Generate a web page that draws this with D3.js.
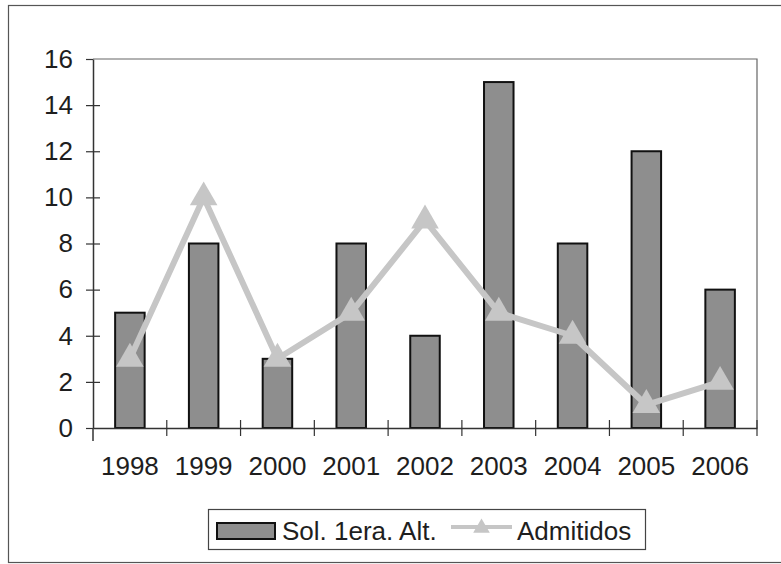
<!DOCTYPE html>
<html>
<head>
<meta charset="utf-8">
<script src="https://cdn.jsdelivr.net/npm/d3@7"></script>
<style>
  body { margin: 0; background: #fff; }
  svg text { font-family: "Liberation Sans", Arial, sans-serif; fill: #1e1e1e; }
</style>
</head>
<body>
<div id="chart"></div>
<script>
// Data
const years = ["1998", "1999", "2000", "2001", "2002", "2003", "2004", "2005", "2006"];
const solicitudes = [5, 8, 3, 8, 4, 15, 8, 12, 6];
const admitidos = [3, 10, 3, 5, 9, 5, 4, 1, 2];
const yTicks = [0, 2, 4, 6, 8, 10, 12, 14, 16];
const seriesNames = ["Sol. 1era. Alt.", "Admitidos"];

const W = 781, H = 564;
const plot = { left: 93, right: 757, top: 59, bottom: 428 };

const svg = d3.select("#chart")
  .append("svg")
    .attr("width", W)
    .attr("height", H);

// outer chart border
svg.append("rect")
  .attr("x", 8.5).attr("y", 5.5)
  .attr("width", W + 10).attr("height", 557)
  .attr("fill", "none")
  .attr("stroke", "#555")
  .attr("stroke-width", 1.2);

const x = d3.scaleBand()
  .domain(years)
  .range([plot.left, plot.right])
  .paddingInner(0)
  .paddingOuter(0);

const y = d3.scaleLinear()
  .domain([0, 16])
  .range([plot.bottom, plot.top]);

// plot area border (top + right)
svg.append("path")
  .attr("d", `M${plot.left},${plot.top}H${plot.right}V${plot.bottom}`)
  .attr("fill", "none")
  .attr("stroke", "#666")
  .attr("stroke-width", 1.2);

// bars
const barW = x.bandwidth() / 2.5;
svg.append("g")
  .selectAll("rect")
  .data(years.map((d, i) => ({ year: d, value: solicitudes[i] })))
  .enter().append("rect")
    .attr("x", d => x(d.year) + (x.bandwidth() - barW) / 2)
    .attr("y", d => y(d.value))
    .attr("width", barW)
    .attr("height", d => y(0) - y(d.value))
    .attr("fill", "#8e8e8e")
    .attr("stroke", "#111")
    .attr("stroke-width", 2);

// Y axis
const yAxis = svg.append("g")
  .attr("transform", `translate(${plot.left},0)`)
  .call(d3.axisLeft(y).tickValues(yTicks).tickSize(7).tickPadding(13).tickSizeOuter(0));
yAxis.selectAll(".tick line").attr("x2", -7).attr("x1", d => d === 16 || d === 0 ? 0 : 7);
yAxis.select(".domain").attr("stroke", "#333").attr("stroke-width", 1.5);
yAxis.selectAll(".tick line").attr("stroke", "#333").attr("stroke-width", 1.2);
yAxis.selectAll(".tick text").style("font-size", "26px").attr("fill", "#1e1e1e");

// X axis
const xAxis = svg.append("g")
  .attr("transform", `translate(0,${plot.bottom})`)
  .call(d3.axisBottom(x).tickSize(0).tickPadding(29).tickSizeOuter(0));
xAxis.select(".domain").attr("stroke", "#333").attr("stroke-width", 1.5);
xAxis.selectAll(".tick text").style("font-size", "26px").attr("fill", "#1e1e1e");
// category separators, Excel style
xAxis.append("g")
  .selectAll("line")
  .data(years.slice(1).concat(["end"]))
  .enter().append("line")
    .attr("x1", (d, i) => i < years.length - 1 ? x(d) : plot.right)
    .attr("x2", (d, i) => i < years.length - 1 ? x(d) : plot.right)
    .attr("y1", -8).attr("y2", 8)
    .attr("stroke", "#333").attr("stroke-width", 1.2);
xAxis.append("line")
  .attr("x1", plot.left).attr("x2", plot.left)
  .attr("y1", 0).attr("y2", 13)
  .attr("stroke", "#333").attr("stroke-width", 1.5);

// line series
const pts = years.map((d, i) => ({ year: d, value: admitidos[i] }));
const lineColor = "#c6c6c6";
svg.append("path")
  .datum(pts)
  .attr("fill", "none")
  .attr("stroke", lineColor)
  .attr("stroke-width", 6)
  .attr("stroke-linejoin", "round")
  .attr("d", d3.line()
    .x(d => x(d.year) + x.bandwidth() / 2)
    .y(d => y(d.value)));

const tri = d3.symbol().type(d3.symbolTriangle).size(330);
svg.append("g")
  .selectAll("path")
  .data(pts)
  .enter().append("path")
    .attr("d", tri)
    .attr("transform", d => `translate(${x(d.year) + x.bandwidth() / 2},${y(d.value)})`)
    .attr("fill", lineColor);

// legend
const legend = svg.append("g").attr("class", "legend");
legend.append("rect")
  .attr("x", 208.5).attr("y", 509.5)
  .attr("width", 437).attr("height", 40)
  .attr("fill", "#fff")
  .attr("stroke", "#444")
  .attr("stroke-width", 1.2);
legend.append("rect")
  .attr("x", 217).attr("y", 523)
  .attr("width", 58).attr("height", 16)
  .attr("fill", "#8e8e8e")
  .attr("stroke", "#111")
  .attr("stroke-width", 2);
legend.append("text")
  .attr("x", 282).attr("y", 540)
  .style("font-size", "26px")
  .text(seriesNames[0]);
legend.append("line")
  .attr("x1", 451).attr("x2", 512)
  .attr("y1", 527).attr("y2", 527)
  .attr("stroke", lineColor)
  .attr("stroke-width", 4);
legend.append("path")
  .attr("d", d3.symbol().type(d3.symbolTriangle).size(120))
  .attr("transform", "translate(481.5,528)")
  .attr("fill", lineColor);
legend.append("text")
  .attr("x", 517).attr("y", 540)
  .style("font-size", "26px")
  .text(seriesNames[1]);
</script>
</body>
</html>
